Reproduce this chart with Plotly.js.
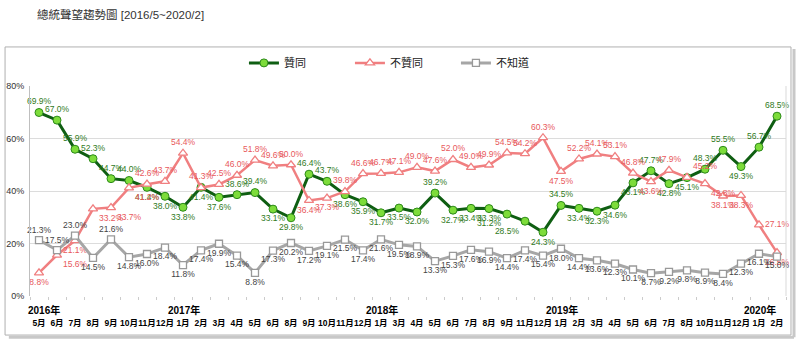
<!DOCTYPE html>
<html><head><meta charset="utf-8">
<script src="https://cdn.plot.ly/plotly-3.0.1.min.js"></script>
<style>body{margin:0;background:#fff}#chart{width:800px;height:342px}</style>
</head><body><div id="chart"></div>
<script>
// ---- data ----
const periods = ['2016/5','2016/6','2016/7','2016/8','2016/9','2016/10','2016/11','2016/12',
  '2017/1','2017/2','2017/3','2017/4','2017/5','2017/6','2017/8','2017/9','2017/10','2017/11','2017/12',
  '2018/1','2018/3','2018/4','2018/5','2018/6','2018/7','2018/8','2018/9','2018/11','2018/12',
  '2019/1','2019/2','2019/3','2019/4','2019/5','2019/6','2019/7','2019/8','2019/10','2019/11','2019/12',
  '2020/1','2020/2'];
const monthLabels = periods.map(p => p.split('/')[1] + '月');
const yearLabels = ['2016年','2017年','2018年','2019年','2020年'];
const yearAt = ['2016/5','2017/1','2018/1','2019/1','2020/1'];

const approve = [69.9,67.0,55.9,52.3,44.7,44.0,41.4,38.0,33.8,41.4,37.6,38.6,39.4,33.1,29.8,46.4,43.7,38.6,35.9,31.7,33.5,32.0,39.2,32.7,33.4,33.3,31.2,28.5,24.3,34.5,33.4,32.3,34.6,43.1,47.7,42.8,45.1,48.3,55.5,49.3,56.7,68.5];
const disapprove = [8.8,15.6,21.1,33.2,33.7,41.2,42.6,43.7,54.4,41.3,42.5,46.0,51.8,49.6,50.0,36.4,37.3,39.8,46.6,46.7,47.1,49.0,47.6,52.0,49.0,49.9,54.5,54.2,60.3,47.5,52.2,54.1,53.1,46.8,43.6,47.9,45.2,42.8,38.1,38.3,27.1,16.5];
const unknown = [21.3,17.5,23.0,14.5,21.6,14.8,16.0,18.4,11.8,17.4,19.9,15.4,8.8,17.3,20.2,17.2,19.1,21.5,17.4,21.6,19.5,18.9,13.3,15.3,17.6,16.9,14.4,17.4,15.4,18.0,14.4,13.6,12.3,10.1,8.7,9.2,9.8,8.9,8.4,12.3,16.1,15.0];
const seriesNames = ['贊同','不贊同','不知道'];
const yTicks = [0,20,40,60,80];

// ---- styles ----
const T='top center', B='bottom center', TR='top right', BR='bottom right', BL='bottom left', TL='top left', MR='middle right';
const posApprove = [T,T,T,T,T,T,B,B,B,B,B,T,T,B,B,T,T,B,B,B,B,B,T,B,B,B,BL,BL,B,T,B,B,B,B,T,B,B,T,T,B,T,T];
const posDisapprove = [B,BR,B,BR,BR,BR,T,T,T,T,T,T,T,T,T,B,B,T,T,T,T,T,T,T,T,T,T,T,T,B,T,T,T,T,B,T,TR,BR,B,B,MR,B];
const posUnknown = periods.map((p,i) => (i===0||i===1||i===2||i===4) ? T : B);

const fontFam = 'Liberation Sans, Arial, Noto Sans CJK TC, sans-serif';
const pct = v => v.toFixed(1) + '%';

const traces = [
  {x: periods, y: approve, name: seriesNames[0], type:'scatter', mode:'lines+markers+text',
   line:{color:'#0f5e12', width:3}, marker:{symbol:'circle', size:8, color:'#7ddc3a', line:{color:'#2d8a1a', width:1}},
   text: approve.map(pct), textposition: posApprove, textfont:{size:8.5, color:'#2f7a22', family:fontFam}, cliponaxis:false},
  {x: periods, y: disapprove, name: seriesNames[1], type:'scatter', mode:'lines+markers+text',
   line:{color:'#f07f80', width:2.5}, marker:{symbol:'triangle-up', size:8, color:'#ffffff', line:{color:'#f07f80', width:1.3}},
   text: disapprove.map(pct), textposition: posDisapprove, textfont:{size:8.5, color:'#e8595c', family:fontFam}, cliponaxis:false},
  {x: periods, y: unknown, name: seriesNames[2], type:'scatter', mode:'lines+markers+text',
   line:{color:'#a6a6a6', width:3}, marker:{symbol:'square', size:7, color:'#ffffff', line:{color:'#999999', width:1.3}},
   text: unknown.map(pct), textposition: posUnknown, textfont:{size:8.5, color:'#444444', family:fontFam}, cliponaxis:false}
];

const annotations = yearLabels.map((t,i) => ({
  x: yearAt[i], y: -0.067, xref:'x', yref:'paper', text:'<b>'+t+'</b>', showarrow:false,
  xshift: i===0 ? 5 : 1, font:{size:10, color:'#000', family:fontFam}, yanchor:'middle'
}));

const layout = {
  width:800, height:342,
  margin:{l:30, r:14, t:86, b:46},
  paper_bgcolor:'#fff', plot_bgcolor:'rgba(0,0,0,0)',
  font:{family:fontFam, size:10, color:'#333'},
  showlegend:true,
  legend:{orientation:'h', x:0.283, y:1.11, xanchor:'left', yanchor:'middle',
    entrywidth:61, entrywidthmode:'pixels', font:{size:11, color:'#222', family:fontFam}, itemwidth:30},
  title:{text:'總統聲望趨勢圖 [2016/5~2020/2]', x:37/800, xanchor:'left', xref:'container',
    y:1-15/342, yref:'container', yanchor:'middle', font:{size:11.5, color:'#333', family:fontFam}},
  xaxis:{type:'category', range:[-0.5, periods.length-0.5], tickvals: periods, ticktext: monthLabels,
    tickangle:0, showgrid:false, zeroline:false, showline:false, ticks:'outside', ticklen:3, tickcolor:'#cccccc',
    tickson:'boundaries', ticklabelstandoff:20,
    tickfont:{size:8.5, color:'#000', family:fontFam, weight:'bold'}},
  yaxis:{range:[0,80], tickvals: yTicks, ticktext: yTicks.map(v=>v+'%'), showgrid:true, gridcolor:'#dcdcdc',
    zeroline:false, showline:true, linecolor:'#bfbfbf', ticks:'', ticklabelstandoff:3,
    tickfont:{size:9, color:'#333', family:fontFam}},
  annotations: annotations,
  shapes:[
    {type:'line', xref:'paper', yref:'paper', x0:1.0, x1:1.0, y0:0, y1:1, line:{color:'#d9d9d9', width:1}},
    {type:'rect', xref:'paper', yref:'paper', x0:-0.033, x1:1.0066, y0:-0.186, y1:1.186, line:{color:'#b0b0b0', width:1}},
    {type:'line', xref:'paper', yref:'paper', x0:1.0106, x1:1.0106, y0:-0.196, y1:1.176, line:{color:'#c8c8c8', width:3}},
    {type:'line', xref:'paper', yref:'paper', x0:-0.028, x1:1.0106, y0:-0.196, y1:-0.196, line:{color:'#c8c8c8', width:3}}
  ],
  hovermode:false
};
Plotly.newPlot('chart', traces, layout, {staticPlot:true, displayModeBar:false});
</script></body></html>
